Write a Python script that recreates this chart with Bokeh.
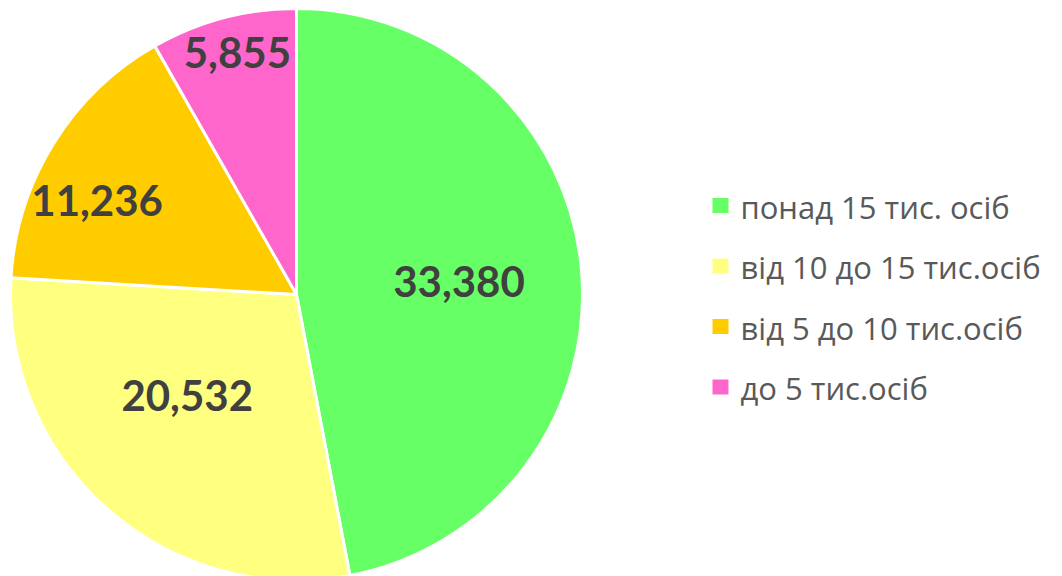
import math
from bokeh.plotting import figure
from bokeh.models import ColumnDataSource
from bokeh.core.properties import value
from bokeh.embed import file_html
from bokeh.resources import INLINE

categories = ["понад 15 тис. осіб", "від 10 до 15 тис.осіб", "від 5 до 10 тис.осіб", "до 5 тис.осіб"]
values = [33380, 20532, 11236, 5855]
labels = ["33,380", "20,532", "11,236", "5,855"]
colors = ["#66FF66", "#FFFF80", "#FFCC00", "#FF66CC"]

W, H = 1062, 576
cx, cy, R = 296, H - 294, 286
label_r = [0.57, 0.52, 0.77, 0.87]
label_da = [0.8, 6.0, -6.7, 1.1]  # degrees tweak

total = sum(values)
starts, ends, lx, ly = [], [], [], []
cum = 0.0
for i, v in enumerate(values):
    f0 = cum / total
    cum += v
    f1 = cum / total
    starts.append(math.pi / 2 - 2 * math.pi * f1)
    ends.append(math.pi / 2 - 2 * math.pi * f0)
    mid = math.radians((f0 + f1) / 2 * 360 + label_da[i])
    lx.append(cx + R * label_r[i] * math.sin(mid))
    ly.append(cy + R * label_r[i] * math.cos(mid))

p = figure(width=W, height=H, x_range=(0, W), y_range=(0, H),
           output_backend="svg", toolbar_location=None, min_border=0)
p.axis.visible = False
p.grid.visible = False
p.outline_line_color = None
p.background_fill_color = "white"

src = ColumnDataSource(dict(start=starts, end=ends, color=colors))
p.wedge(x=cx, y=cy, radius=R, start_angle="start", end_angle="end",
        direction="anticlock", fill_color="color", line_color="white",
        line_width=3, source=src)

p.text(x=lx, y=ly, text=labels, text_font=value("Lato"), text_font_style="bold",
       text_font_size="42px", text_color="#404040", text_align="center",
       text_baseline="middle")

sq_y = [H - (205 + 60.5 * i) for i in range(len(categories))]
base_y = [H - (206 + 60.5 * i) for i in range(len(categories))]
p.rect(x=[720] * 4, y=sq_y, width=16, height=15, fill_color=colors, line_color=None)
p.text(x=[740] * 4, y=base_y, text=categories, text_font=value("Open Sans"),
       text_font_size="31px", text_color="#595959", text_align="left",
       text_baseline="middle")

open("out.html", "w").write(file_html(p, INLINE))
